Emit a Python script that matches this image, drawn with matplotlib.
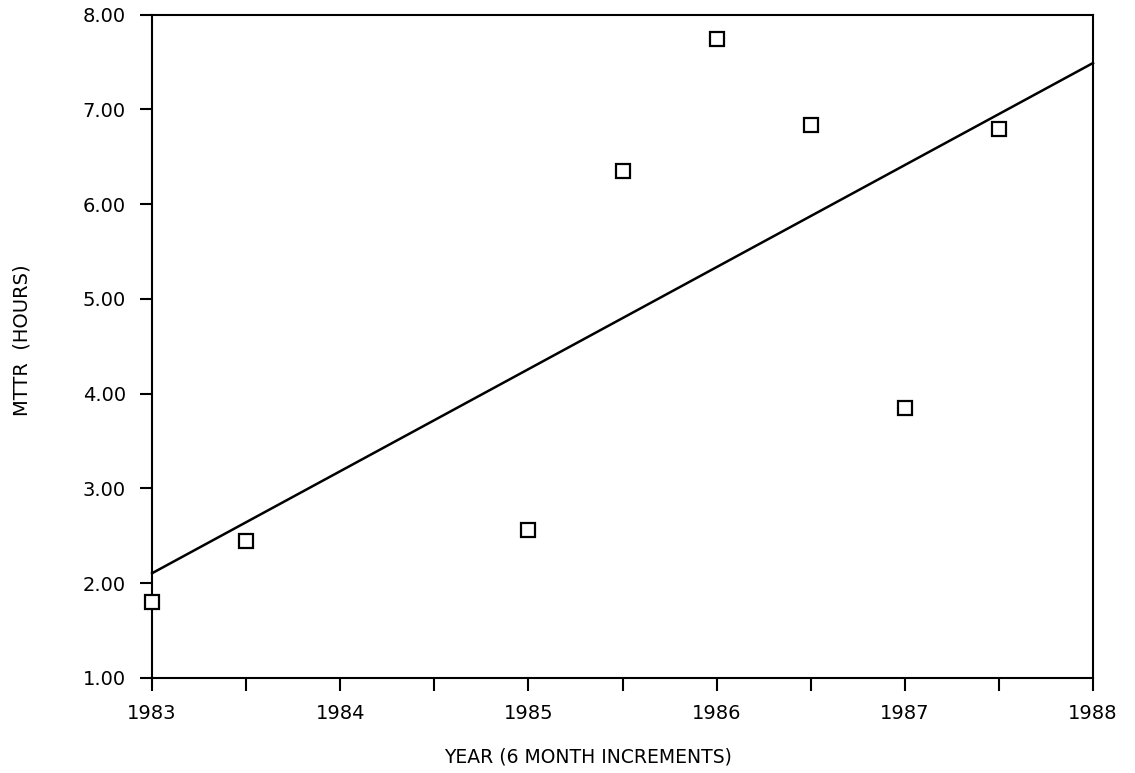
import numpy as np
import matplotlib.pyplot as plt

# MTTR observations, one every six months
years = [1983.0, 1983.5, 1985.0, 1985.5, 1986.0, 1986.5, 1987.0, 1987.5]
mttr = [1.80, 2.45, 2.56, 6.35, 7.74, 6.84, 3.85, 6.79]
x_ticks = [1983, 1983.5, 1984, 1984.5, 1985, 1985.5, 1986, 1986.5, 1987, 1987.5, 1988]
x_labels = ["1983", "", "1984", "", "1985", "", "1986", "", "1987", "", "1988"]
y_ticks = [1, 2, 3, 4, 5, 6, 7, 8]

# least squares trend line over the whole axis range
slope, icpt = np.polyfit(years, mttr, 1)
xfit = np.array([1983, 1988])
yfit = slope * xfit + icpt

fig = plt.figure(figsize=(11.35, 7.73), dpi=100)
ax = fig.add_axes([0.134, 0.123, 0.829, 0.858])

ax.plot(xfit, yfit, color="black", lw=1.8, clip_on=False, zorder=2)
ax.plot(years, mttr, ls="none", marker="s", ms=10, mfc="white", mec="black",
        mew=1.6, clip_on=False, zorder=3)

ax.set_xlim(1983, 1988)
ax.set_ylim(1, 8)
ax.set_xticks(x_ticks)
ax.set_xticklabels(x_labels)
ax.set_yticks(y_ticks)
ax.set_yticklabels([f"{v:.2f}" for v in y_ticks])
ax.tick_params(direction="out", length=9, width=1.5, labelsize=14, pad=10)

for sp in ax.spines.values():
    sp.set_linewidth(1.5)

fig.text(0.518, 0.021, "YEAR (6 MONTH INCREMENTS)", ha="center", va="center",
         fontsize=13.5)
fig.text(0.019, 0.56, "MTTR  (HOURS)", ha="center", va="center",
         rotation=90, fontsize=14)

fig.savefig("out.png", dpi=100)
